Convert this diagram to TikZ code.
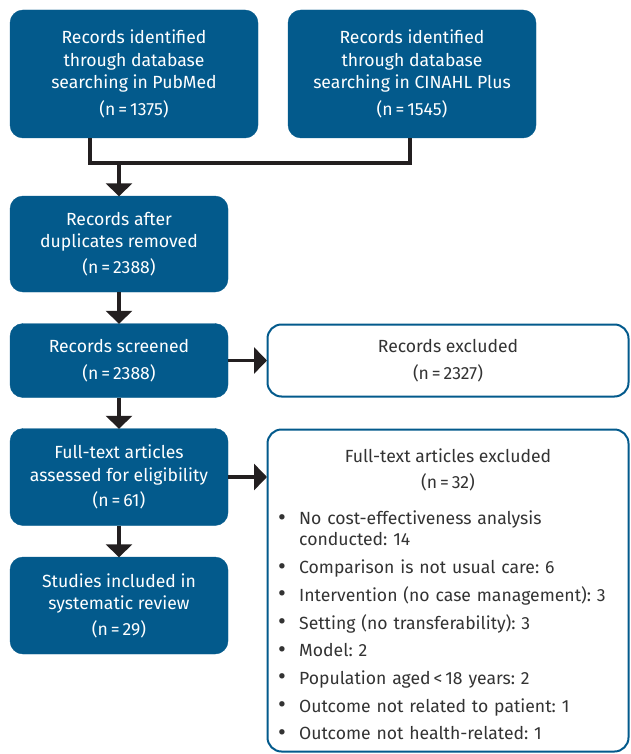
\documentclass[tikz,border=0pt]{standalone}
\usepackage{fontspec}
\setmainfont{Fira Sans}[Numbers={Proportional,Lining}]
\usetikzlibrary{arrows.meta}
\frenchspacing
\definecolor{boxblue}{HTML}{035A8C}
\definecolor{linecol}{HTML}{231F20}
\definecolor{txtgray}{HTML}{333333}
\tikzset{
  darkbox/.style={draw=boxblue, fill=boxblue, rounded corners=13pt, text=white, align=center, inner sep=0pt, font=\fontsize{17.6}{22.5}\selectfont},
  lightbox/.style={draw=boxblue, line width=2pt, fill=white, rounded corners=14pt, text=txtgray, align=center, inner sep=0pt, font=\fontsize{17.6}{22.5}\selectfont},
  plainline/.style={draw=linecol, line width=3.5pt},
  arr/.style={draw=linecol, line width=3.5pt, -{Triangle[width=26pt,length=13pt]}, shorten >=-0.5pt},
}
\newcommand\itm[1]{\par\noindent\hangindent=22pt\hangafter=1\makebox[22pt][l]{\hspace{1pt}{\fontsize{24}{21}\selectfont\raisebox{-0.5pt}{\textbullet}}}#1}
\begin{document}
\begin{tikzpicture}[x=1pt,y=-1pt]
\useasboundingbox (0,0) rectangle (630,754);
\node[darkbox, minimum width=248pt, minimum height=128pt] (b1) at (134,74) {\rule{0pt}{4pt}Records identified\\through database\\searching in PubMed\\[4pt](n\,=\,1375)};
\node[darkbox, minimum width=248pt, minimum height=128pt] (b2) at (412,74) {\rule{0pt}{4pt}Records identified\\through database\\searching in CINAHL Plus\\[4pt](n\,=\,1545)};
\node[darkbox, minimum width=218pt, minimum height=96pt] (b3) at (119,244) {Records after\\duplicates removed\\[3pt](n\,=\,2388)};
\node[darkbox, minimum width=218pt, minimum height=74pt] (b4) at (119,360.5) {Records screened\\[4pt](n\,=\,2388)};
\node[darkbox, minimum width=218pt, minimum height=97pt] (b5) at (119,477) {Full-text articles\\assessed for eligibility\\[3pt](n\,=\,61)};
\node[darkbox, minimum width=218pt, minimum height=97pt] (b6) at (119,605.5) {Studies included in\\systematic review\\[3pt](n\,=\,29)};
\node[lightbox, minimum width=361pt, minimum height=72pt] (e1) at (448,360.5) {Records excluded\\[4pt](n\,=\,2327)};
\node[lightbox, minimum width=361pt, minimum height=322pt] (e2) at (448,590.5) {};
\node[text=txtgray, align=center, font=\fontsize{17.6}{22.5}\selectfont] (e2t) at (448,470) {Full-text articles excluded\\[3pt](n\,=\,32)};
\node[text=txtgray, anchor=north west, inner sep=0pt, text width=345pt, font=\fontsize{17.6}{21}\selectfont] (e2l) at (277,497) {\setlength{\parskip}{6.7pt}%
\itm{No cost-effectiveness analysis\newline conducted: 14}
\itm{Comparison is not usual care: 6}
\itm{Intervention (no case management): 3}
\itm{Setting (no transferability): 3}
\itm{Model: 2}
\itm{Population aged\,<\,18 years: 2}
\itm{Outcome not related to patient: 1}
\itm{Outcome not health-related: 1}\par};
\coordinate (jl) at (90,163);
\coordinate (jr) at (410,163);
\coordinate (jm) at (119,163);
\draw[plainline] (b1.south -| jl) -- (jl) -- (jr) -- (b2.south -| jr);
\draw[arr] (jm) -- (b3.north);
\draw[arr] (b3.south) -- (b4.north);
\draw[arr] (b4.south) -- (b5.north);
\draw[arr] (b5.south) -- (b6.north);
\draw[arr] (b4.east) -- (e1.west);
\draw[arr] (b5.east) -- (e2.west |- b5.east);
\end{tikzpicture}
\end{document}
